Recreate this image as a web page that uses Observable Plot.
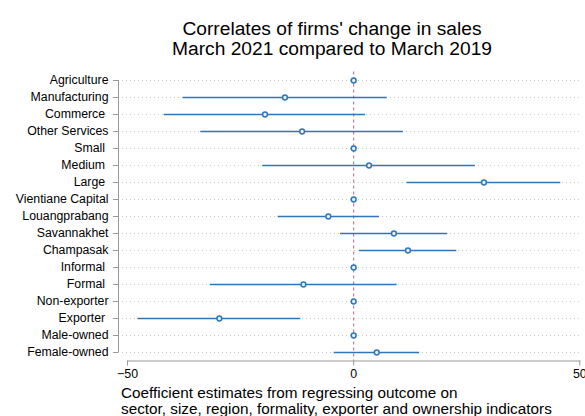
<!DOCTYPE html>
<html>
<head>
<meta charset="utf-8">
<script src="https://cdn.jsdelivr.net/npm/d3@7"></script>
<script src="https://cdn.jsdelivr.net/npm/@observablehq/plot@0.6"></script>
<style>
  html, body { margin: 0; padding: 0; background: #fff; }
  body { width: 585px; height: 416px; overflow: hidden; font-family: "Liberation Sans", Arial, sans-serif; color: #000; }
  #title { box-sizing: border-box; width: 585px; height: 60px; padding-left: 79px; padding-top: 19.4px; text-align: center; font-size: 19.2px; line-height: 20px; white-space: nowrap; }
  #chart svg { display: block; }
  #caption { box-sizing: border-box; width: 585px; padding-left: 121px; margin-top: 0; font-size: 15.3px; line-height: 16px; white-space: nowrap; }
</style>
</head>
<body>
<div id="title">Correlates of firms' change in sales<br>March 2021 compared to March 2019</div>
<div id="chart"></div>
<div id="caption">Coefficient estimates from regressing outcome on<br>sector, size, region, formality, exporter and ownership indicators</div>
<script>
const categories = ["Agriculture", "Manufacturing", "Commerce\u00a0", "Other Services", "Small\u00a0", "Medium\u00a0", "Large\u00a0",
  "Vientiane Capital", "Louangprabang", "Savannakhet", "Champasak", "Informal\u00a0", "Formal\u00a0",
  "Non-exporter", "Exporter\u00a0", "Male-owned", "Female-owned"];
const estimate = [0, -15.2, -19.6, -11.4, 0, 3.4, 28.8, 0, -5.6, 8.9, 12.0, 0, -11.1, 0, -29.7, 0, 5.1];
const lower = [null, -37.7, -41.9, -33.8, null, -20.1, 11.8, null, -16.7, -2.9, 1.3, null, -31.7, null, -47.7, null, -4.3];
const upper = [null, 7.4, 2.6, 11.0, null, 26.9, 45.8, null, 5.7, 20.8, 22.8, null, 9.6, null, -11.7, null, 14.6];
const xTicks = [-50, 0, 50];
const xDomain = [-52, 50];

const rows = categories.map((c, i) => ({label: c, est: estimate[i], lo: lower[i], hi: upper[i]}));
const ci = rows.filter(d => d.lo != null);

const blue = "#2e76b9";
const chart = Plot.plot({
  width: 585,
  height: 324.5,
  marginTop: 11.5,
  marginBottom: 24,
  marginLeft: 118,
  marginRight: 5.7,
  style: {fontFamily: "'Liberation Sans', Arial, sans-serif", fontSize: "12.3px", color: "#000", background: "transparent", overflow: "hidden"},
  x: {domain: xDomain, ticks: xTicks, label: null},
  y: {type: "point", domain: categories, padding: 0.5, label: null},
  marks: [
    Plot.gridY({stroke: "#c8c8c8", strokeOpacity: 1, strokeDasharray: "1,3"}),
    Plot.ruleX([0], {stroke: "#c4578b", strokeWidth: 1, strokeDasharray: "3,3"}),
    Plot.ruleX([xDomain[0]], {y1: () => categories[0], y2: () => categories[categories.length - 1], stroke: "#999", strokeWidth: 1}),
    Plot.frame({anchor: "bottom", insetLeft: 9.3, stroke: "#999", strokeWidth: 1}),
    Plot.axisY({tickSize: 5, tickPadding: 5, stroke: "#999", fill: "#000", label: null}),
    Plot.axisX({ticks: xTicks, tickSize: 5, tickPadding: 3.5, stroke: "#999", fill: "#000", label: null, fontSize: 12.4}),
    Plot.ruleY(ci, {y: "label", x1: "lo", x2: "hi", stroke: blue, strokeWidth: 1.5}),
    Plot.dot(rows, {y: "label", x: "est", r: 2.4, stroke: blue, strokeWidth: 1.5, fill: "#eaf2fa"})
  ]
});
document.getElementById("chart").append(chart);
</script>
</body>
</html>
